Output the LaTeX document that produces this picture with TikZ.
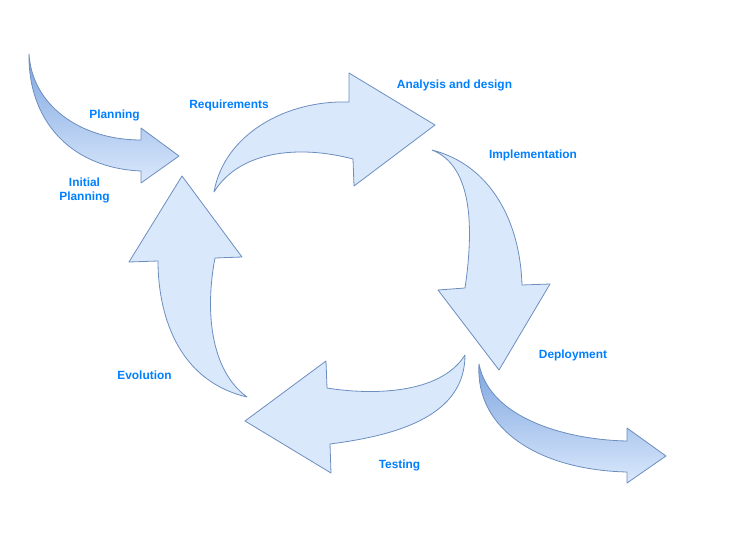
\documentclass[tikz,border=0pt]{standalone}
\usepackage{fontspec}
\setmainfont{Liberation Sans}
\usepackage{tikz}
\definecolor{arrowfill}{HTML}{DAE8FC}
\definecolor{arrowline}{HTML}{6C8EBF}
\definecolor{arrowdark}{HTML}{7EA6E0}
\definecolor{labelblue}{HTML}{007FFF}
\begin{document}
\begin{tikzpicture}[x=1pt,y=1pt,
  cyclearrow/.style={draw=arrowline,fill=arrowfill,line width=0.8pt,line join=round},
  endarrow/.style={draw=arrowline,top color=arrowdark,bottom color=arrowfill,line width=0.8pt,line join=round},
  steplabel/.style={text=labelblue,font=\fontsize{11.9}{13.5}\selectfont\bfseries,align=center,inner sep=0pt}]
\useasboundingbox (0,0) rectangle (739,-545);
% planning arrow (in)
\draw [endarrow] (29,-54) .. controls (32,-105) and (80,-140) .. (141,-140)
  -- (141,-128) -- (179,-156) -- (141,-183) -- (141,-171)
  .. controls (70,-168) and (28,-120) .. (29,-54) -- cycle;
% requirements to analysis
\draw [cyclearrow] (214,-192) .. controls (224,-135) and (285,-100) .. (349,-102)
  -- (349,-73) -- (435,-125) -- (354,-186) -- (353,-159)
  .. controls (300,-145) and (240,-150) .. (214,-192) -- cycle;
% implementation
\draw [cyclearrow] (432,-150) .. controls (490,-165) and (520,-220) .. (522,-285)
  -- (550,-284) -- (499,-370) -- (438,-290) -- (465,-288)
  .. controls (475,-220) and (470,-165) .. (432,-150) -- cycle;
% deployment arrow (out)
\draw [endarrow] (479,-364) .. controls (490,-420) and (570,-440) .. (627,-441)
  -- (627,-428) -- (666,-456) -- (627,-483) -- (627,-472)
  .. controls (540,-470) and (475,-430) .. (479,-364) -- cycle;
% testing
\draw [cyclearrow] (465,-355) .. controls (440,-395) and (370,-395) .. (327,-388)
  -- (326,-361) -- (245,-421) -- (331,-473) -- (330,-444)
  .. controls (400,-435) and (465,-415) .. (465,-355) -- cycle;
% evolution
\draw [cyclearrow] (247,-397) .. controls (175,-380) and (158,-310) .. (158,-261)
  -- (129,-262) -- (182,-176) -- (242,-257) -- (215,-258)
  .. controls (205,-310) and (210,-370) .. (247,-397) -- cycle;
% labels
\draw (114.5,-115) node [steplabel] (planning) {Planning};
\draw (84.5,-190.5) node [steplabel] (initial) {Initial\\Planning};
\draw (229,-105) node [steplabel] (requirements) {Requirements};
\draw (454.5,-85) node [steplabel] (analysis) {Analysis and design};
\draw (533,-155) node [steplabel] (implementation) {Implementation};
\draw (573,-355) node [steplabel] (deployment) {Deployment};
\draw (399.5,-465) node [steplabel] (testing) {Testing};
\draw (144.5,-375) node [steplabel] (evolution) {Evolution};
\end{tikzpicture}
\end{document}
